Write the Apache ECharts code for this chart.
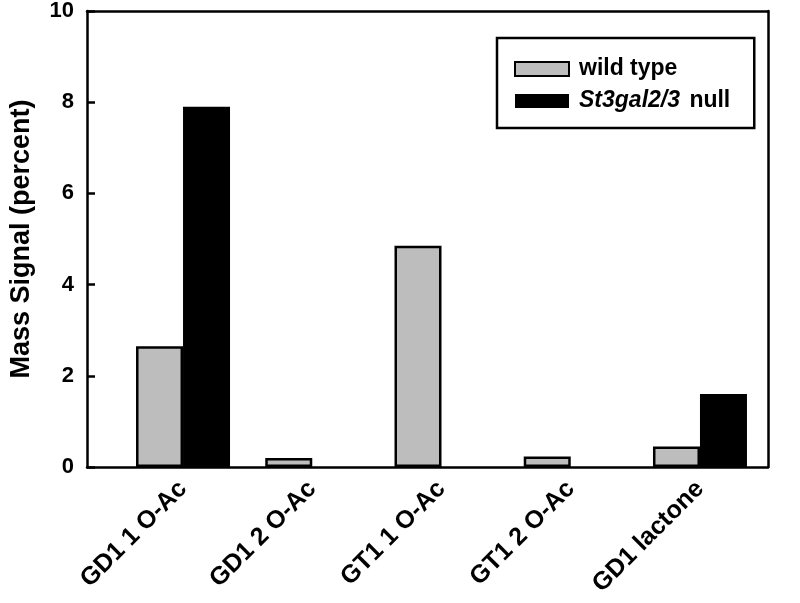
<!DOCTYPE html>
<html>
<head>
<meta charset="utf-8">
<script src="https://cdn.jsdelivr.net/npm/echarts@6/dist/echarts.min.js"></script>
<style>html,body{margin:0;padding:0;background:#fff;}#c{width:800px;height:603px;}</style>
</head>
<body>
<div id="c"></div>
<script>
var categories = ['GD1 1 O-Ac', 'GD1 2 O-Ac', 'GT1 1 O-Ac', 'GT1 2 O-Ac', 'GD1 lactone'];
var wildType = [2.65, 0.2, 4.85, 0.23, 0.45];
var nullType = [7.9, 0, 0, 0, 1.6];
var yTicks = [0, 2, 4, 6, 8, 10];
var seriesNames = ['wild type', 'St3gal2/3 null'];

var FONT = "'Liberation Sans', Arial, sans-serif";
var chart = echarts.init(document.getElementById('c'));
var frameLine = {show: true, onZero: false, lineStyle: {color: '#000', width: 2.5}};
chart.setOption({
  animation: false,
  backgroundColor: '#fff',
  textStyle: {fontFamily: FONT},
  grid: [
    {left: 87, right: 32, top: 11, bottom: 136},
    {left: 118.4, right: 35.4, top: 11, bottom: 136}
  ],
  legend: {
    orient: 'vertical',
    left: 497, top: 38,
    padding: [19, 24, 15, 17],
    borderColor: '#000', borderWidth: 2.5,
    icon: 'rect',
    itemWidth: 54, itemHeight: 14, itemGap: 8,
    data: seriesNames,
    formatter: function (n) {
      return n.indexOf('St3gal') === 0 ? '{i|St3gal2/3}{b| null}' : '{b|' + n + '}';
    },
    textStyle: {
      fontFamily: FONT, lineHeight: 24, padding: [0, 0, 0, 5],
      rich: {
        i: {fontStyle: 'italic', fontWeight: 'bold', fontSize: 23, color: '#000', fontFamily: FONT, padding: [0, 3, 0, 0]},
        b: {fontWeight: 'bold', fontSize: 23, color: '#000', fontFamily: FONT}
      }
    }
  },
  xAxis: [
    {type: 'value', gridIndex: 0, min: 0, max: 1, axisLine: frameLine, axisTick: {show: false}, axisLabel: {show: false}, splitLine: {show: false}},
    {type: 'value', gridIndex: 0, position: 'top', min: 0, max: 1, axisLine: frameLine, axisTick: {show: false}, axisLabel: {show: false}, splitLine: {show: false}},
    {type: 'category', gridIndex: 1, data: categories, axisLine: {show: false}, axisTick: {show: false},
     axisLabel: {rotate: 45, margin: 18, fontSize: 25, fontWeight: 'bold', color: '#000', fontFamily: FONT, interval: 0}}
  ],
  yAxis: [
    {type: 'value', gridIndex: 0, min: 0, max: 10, interval: 2,
     name: 'Mass Signal (percent)', nameLocation: 'middle', nameGap: 52,
     nameTextStyle: {fontSize: 27, fontWeight: 'bold', color: '#000', fontFamily: FONT},
     axisLine: frameLine,
     axisTick: {show: true, inside: true, length: 8, lineStyle: {color: '#000', width: 2.5}},
     axisLabel: {margin: 13, fontSize: 22, fontWeight: 'bold', color: '#000', fontFamily: FONT,
                 formatter: function (v) { return yTicks.indexOf(v) >= 0 ? String(v) : ''; }},
     splitLine: {show: false}},
    {type: 'value', gridIndex: 0, position: 'right', min: 0, max: 10, interval: 2, axisLine: frameLine, axisTick: {show: false}, axisLabel: {show: false}, splitLine: {show: false}},
    {type: 'value', gridIndex: 1, min: 0, max: 10, show: false, splitLine: {show: false}}
  ],
  series: [
    {name: seriesNames[0], type: 'bar', xAxisIndex: 2, yAxisIndex: 2, data: wildType, barWidth: 47, barGap: '0%',
     itemStyle: {color: '#bdbdbd', borderColor: '#000', borderWidth: 2.5}},
    {name: seriesNames[1], type: 'bar', xAxisIndex: 2, yAxisIndex: 2, data: nullType, barWidth: 47, barGap: '0%',
     itemStyle: {color: '#000', borderColor: '#000', borderWidth: 0}}
  ]
});
</script>
</body>
</html>
